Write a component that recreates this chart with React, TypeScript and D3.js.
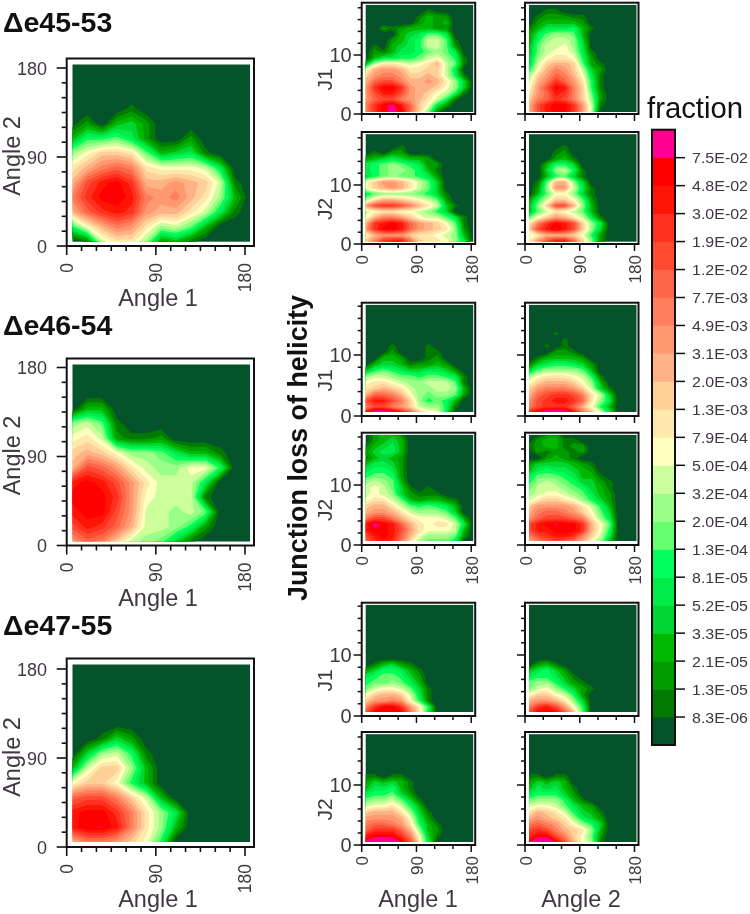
import React from "react";
import * as d3 from "d3";

const BAND_COLORS = ["#04532a","#007a00","#009c00","#00b800","#00d632","#00ec48","#00ff5a","#66ff70","#99ff88","#ccff9c","#ffffbf","#ffe8ac","#ffd098","#ffb285","#ff9a70","#ff7f5c","#ff6647","#ff4a32","#ff3020","#ff1405","#ff0000","#ff0090"];
const LEVEL_LABELS = ["8.3E-06","1.3E-05","2.1E-05","3.3E-05","5.2E-05","8.1E-05","1.3E-04","2.0E-04","3.2E-04","5.0E-04","7.9E-04","1.3E-03","2.0E-03","3.1E-03","4.9E-03","7.7E-03","1.2E-02","1.9E-02","3.0E-02","4.8E-02","7.5E-02"];

// Grid values are positions on the colour bar (0 = lowest band, 21 = highest). Whole numbers mean "inside that band"; rows run bottom-up.
const mainA = [
  [0,1,9,11,11,8,2,3,1],
  [6,10,13,15,14,11,8,9,7,3],
  [13,16,18,19,18,14,13,13,11,9,5,1],
  [15,18,20,20.8,19,15,14.5,15,13,11,8,3],
  [13,17,19,20,18,13,13,14,13,12,9,1],
  [11,13,15,16,15,11,10,10,10,9,5],
  [8,10,12,12,11,7,3,4,5,1],
  [3,6,6,7,5,2,0,0,2],
  [0.4,2,0,3,4,2],
  [0,0,0,0,1],
];
const mainB = [
  [14,16,15,12,9,8.6,7,4,1],
  [17,19,18,16,13,9,9,8,6,2],
  [19,20,20,17,14,9.7,9,8,9,7],
  [20,20.9,20,18,14,10.6,9,9,9,1],
  [19,20,19,17,14,11,9,9,9,5],
  [13,17,16,14,11,9,8,8,10,10,6],
  [12,13,12,10,8,8,7,5,3,3,1],
  [10,11,9,2,1,1,2],
  [8,9,7,1],
  [0,3,3],
];
const mainC = [
  [13,15,15,14,12,10,6],
  [19,20.9,21.05,19,15,11,8,3],
  [19,20,20,18,15,11,8,5],
  [16,17,17,15,12,9,3],
  [10,12,12,10,6,3],
  [3,9,12.4,12,8,3.5],
  [0,4,8,9,6,1],
  [0,0,1,4,2],
];
const j1A1 = [
  [15,18,20,21.6,20,16,12,8,2],
  [15,18,20,21.6,19,16,12,10,5,2],
  [14,16,17,17,15,14,13,11,9,6,1],
  [14,17,19,19,17,14,13,12,10,9,6,1],
  [14,18,20,20,18,14,13,13,12,10,8,4],
  [13,16,17,17,15,13,13,14,13,11,8,4],
  [12,14,15,15,14,12,12,13,12,9,6,1],
  [10,13,14,14,13,11,11,12,12,9,5],
  [3,9,11,11,10,9,10,11,13,9,7,1],
  [0,3,5,5,6,6,7,9,10,8,6,1],
  [0,2,1,3,5,5,6,7,8,7,5],
  [0,1,0,3,4,5,6,9,9,7,2],
  [0,0,0,2,3,5,6,9,9,7,1],
  [0,0,0,0,3,4,5,7,7,5],
  [0,0,2,1,2,3,3,3,2,2],
  [0,0,0,0,0,0,2,3,2,3],
  [0,0,0,0,0,0,1,3,2,2],
  [0,0,0,0,0,0,0,1,0.5],
];
const j1A2 = [
  [13,17,19,20,20,18,14,9,0.5],
  [13,17,19,20,20,18,14,9,1],
  [12,15,16,18,17,15,12,8,2],
  [11,14,16,19,18,15,12,7,2],
  [10,14,17,20,19,15,12,6,1],
  [9,13,15,18,16,14,11,6,1],
  [8,12,14,16,15,13,10,5,1],
  [6,10,13,15,14,12,9,4,2],
  [4,9,12,13,13,12,7,2,1],
  [4,8,10,11,11,10,6,2],
  [3,7,9,10,10,9,5,1],
  [3,7,9,9,10,8,5],
  [2,6,8,9,9,8,4],
  [2,5,7,8,8,7,3],
  [1,3,5,5,5,6,3,1],
  [0,2,3,3,3,3,2],
  [0,1,2,2,2,1,1],
  [0,0,1,1],
];
const j2A1 = [
  [12,15,18,19,19,16,12,11,11,10,8,5],
  [10,13,14,14,14,12,11,11,10,9,8,3],
  [14,18,20,20,19,16,14,13,12,11,8,2],
  [13,18,19,20,19,16,14,13,12,10,7,1],
  [10,13,15,15,14,12,10,9,9,7,5,1],
  [9,10,11,11,10,10,9,8,6,4],
  [14,17,18,18,17,15,13,11,9,4,1],
  [8,11,13,13,12,11,10,9,7,2],
  [5,7,8,8,8,8,7,6,4,1],
  [10,12,13,14,13,11,9,7,4],
  [10,12,14,14,13,11,9,7,4],
  [4,6,7,8,7,7,6,5,2],
  [5,6,7,8,8,7,6,3,1],
  [5,6,7,8,7,6,5,2,2],
  [2,3,4,5,4,3,3,2],
  [0,1,0,2,2],
  [0,0,0,0,1],
];
const j2A2 = [
  [11,14,17,19,19,16,12,8,2],
  [9,11,13,13,13,12,10,6,2],
  [12,17,19,21.2,19,17,12,8,4],
  [11,15,18,20,19,17,12,8,5],
  [7,10,12,14,13,11,9,5,1],
  [3,7,9,11,10,9,7,3],
  [3,8,12,17,17,13,8,3],
  [2,6,9,12,12,10,7,2],
  [0,3,7,10,10,8,4,1],
  [0,2,8,14,14,9,5,1],
  [0,1,7,13,13,8,4],
  [0,0,3,6,7,4,1],
  [0,0,4,8,9,6,1],
  [0,0,3,6,6,4],
  [0,0,0,2,3,1],
  [0,0,0,1,2],
  [0,0,0,0.5,1],
];
const j1B1 = [
  [20,24,24,23,20,17,13,11,10,5],
  [15,17,17,15,14,12,9,8,8,6,1],
  [17,19,19,17,15,12,8,6,7,6,3],
  [13,16,16,15,13,10,8,7,8,8,7,2],
  [11,12,13,12,11,9,8,8,9,9,8,3],
  [10,11,11,10,9,8,8,9,9,9,7,1],
  [8,9,9,8,7,7,6,7,7,6,5,1],
  [3,6,7,6,5,4,4,5,5,4,2],
  [0,3,4,4,3,1,2,2,3,2],
  [0,0,3,3,2,0,0,1,2],
  [0,0,0.5,2,0,0,0,1,1],
  [0,0,0,1,0,0,0,1],
];
const j1B2 = [
  [19,21,24,24,24,20,16,13,10,5],
  [15,17,18,18,18,16,13,10,6,3],
  [14,17,18,19,19,18,16,11,8,5],
  [13,16,17,18,18,17,15,11,9,4],
  [12,14,15,15,15,14,12,9,4,1],
  [10,12,13,13,13,12,10,8,3],
  [8,10,11,11,11,10,9,6,1],
  [4,7,8,8,8,8,7,3],
  [1,4,5,6,6,5,4,2],
  [0,1,3,3,3,3,2],
  [0,0,0,2,2,1],
  [0,0,1,0,1],
  [0,0,0,0,1],
  [0,0,0,1.5],
];
const j2B1 = [
  [16,18,19,18,15,11,8,7,7,7,5],
  [17,19,20,19,16,13,10,8,8,8,7,2],
  [19,20.8,20,19,17,14,11,10,10,10,9,3],
  [19,21.6,20.6,19,16,13,11,10,11,11,9,5],
  [15,17,17,15,13,11,10,10,10,9,7,2],
  [13,14,14,13,11,9,8,8,8,7,4],
  [12,13,13,11,9,7,6,7,6,5,3],
  [10,11,11,9,7,3,2,3,3,2,1],
  [9,10,9,8,4,2,1,1,1],
  [9,10,9,7,4,1,0,1],
  [8,9,8,7,3],
  [6,7,7,6,2],
  [5,6,6,5,2],
  [3,5,5,4,2],
  [1,3,4,3,2],
  [2,4,5,5,3],
  [1,3,4,5,3],
  [0,2,3,4,3],
  [0,2,3,3,1],
];
const j2B2 = [
  [13,15,16,17,16,15,13,10,8,3],
  [15,17,18,19,19,18,15,12,9,5],
  [17,19,19,20,20.8,20,18,13,10,6],
  [17,19,20,21.2,20.5,20,18,13,10,7],
  [14,16,17,17,17,16,15,11,8,5],
  [13,15,16,16,15,14,12,10,7,4],
  [12,14,14,14,14,13,11,9,6,3],
  [9,11,12,12,11,10,8,6,4,2],
  [8,9,10,10,9,8,7,5,3,2],
  [7,9,9,9,8,7,6,4,3,1],
  [6,8,9,8,7,6,4,4,2,1],
  [5,7,7,7,6,5,3,3,1],
  [3,5,6,5,5,4,3,2],
  [2,4,4,4,4,3,2,1],
  [0,0,2,3,2,1],
  [0,2,1,2,2,1,2],
  [1,2,3,3,1,2,2],
  [0,2,3,3,1,1],
  [0,0,1,2],
];
const j1C1 = [
  [17,20,20.7,20.7,20,16,11,5],
  [15,18,20,20,18,14,11,6],
  [12,14,14,15,14,10,6,1],
  [10,12,13,13,12,9,5,1],
  [7,9,10,10,9,7,4,1],
  [6,7,7,8,7,5,3],
  [5,6,7,7,6,4,2],
  [2,4,6,6,5,3,1],
  [0,1,3,4,2.5,1],
];
const j1C2 = [
  [17,20,20.7,20,17,13,7],
  [15,18,19,17,14,10,6],
  [13,14,14,13,11,8,4],
  [10,12,12,10,9,6,2],
  [7,9,10,8,6,4,2,1],
  [7,8,8,6,4,2,1],
  [5,6,6,5,3,1],
  [3,5,6,4,2],
  [0,2,3,1],
];
const j2C1 = [
  [21,23,23,23,20.8,17,11,5],
  [19,20,20,20,18,15,10,4,1],
  [16,18,18,18,16,13,8,3,2],
  [15,16,16,15,14,11,6,3,1],
  [14,14,14,14,13,10,5,2],
  [12,13,13,13,11,8,4,1],
  [9,10,10,11,9,6,3],
  [7,8,8,9,7,4,1],
  [5,6,6,7,4,2],
  [3,5,5,6,3,1],
  [2,4,3,4,3,1],
  [1,1,0,1,1],
];
const j2C2 = [
  [20.8,23,23,20.8,17,13,10,8,1],
  [18,20,20,17,15,12,10,7,2],
  [17,18,17,15,13,12,11,8,3],
  [15,16,15,14,12,10,8,6,4],
  [13,14,13,12,11,8,5,4,2],
  [11,13,12,11,9,6,4,3,1],
  [9,10,10,9,7,5,3,2],
  [7,8,8,8,6,3,1],
  [5,6,6,6,4,2],
  [3,5,4,5,3,1],
  [2,4,3,4,3],
  [1,1,0,1,1],
];

const TITLES = ["\u0394e45-53", "\u0394e46-54", "\u0394e47-55"];
const MAIN_TICKS = [0, 90, 180];
const MAIN_MINOR = d3.range(0, 181, 15);
const J_TICKS = [0, 10];
const J_MINOR = d3.range(0, 19, 2);
const SMALL_MINOR = d3.range(0, 181, 30);
const THRESHOLDS = d3.range(1, 22);
const FONT = "'Liberation Sans', Arial, sans-serif";
const INK = "#3f3840";

function ContourFill({ rows, nRows, colX, rowY, clipId, box }: any) {
  const nCols = 13;
  const values = new Array(nCols * nRows).fill(0);
  rows.forEach((r: number[], j: number) => r.forEach((v, i) => {
    values[j * nCols + i] = v > 0 && Number.isInteger(v) ? v + 0.5 : v;
  }));
  const gen = d3.contours().size([nCols, nRows]).thresholds(THRESHOLDS).smooth(true);
  const path = d3.geoPath(d3.geoTransform({
    point(x: number, y: number) { (this as any).stream.point(colX(x - 0.5), rowY(y - 0.5)); },
  }));
  return (
    <g>
      <clipPath id={clipId}><rect x={box[0]} y={box[1]} width={box[2] - box[0]} height={box[3] - box[1]} /></clipPath>
      <rect x={box[0]} y={box[1]} width={box[2] - box[0]} height={box[3] - box[1]} fill={BAND_COLORS[0]} />
      <g clipPath={`url(#${clipId})`}>
        {gen(values).map((c: any, i: number) => (
          <path key={i} d={path(c) || ""} fill={BAND_COLORS[c.value]} />
        ))}
      </g>
    </g>
  );
}

function Frame({ l, t, r, b }: any) {
  return <rect x={l} y={t} width={r - l} height={b - t} fill="#fff" stroke="#111" strokeWidth={2} />;
}

function MainPanel({ rows, index }: any) {
  const f = MAIN_LAYOUT[index];
  const x = d3.scaleLinear([0, 180], [66.7, 245]);
  const y = d3.scaleLinear([0, 180], [f.zero, f.zero - 178]);
  const box = [72.5, f.top + 6, 250, f.inBottom];
  const colX = d3.scaleLinear([0, 12], [box[0], box[2]]);
  const rowY = d3.scaleLinear([0, 12], [box[3], box[1]]);
  return (
    <g>
      <text x={3} y={f.titleY} fontFamily={FONT} fontWeight="bold" fontSize={28.5} fill="#111">{TITLES[index]}</text>
      <Frame l={66.7} t={f.top} r={254} b={f.zero} />
      <ContourFill rows={rows} nRows={13} colX={colX} rowY={rowY} clipId={`m${index}`} box={box} />
      {MAIN_MINOR.map((d) => (
        <g key={d} stroke="#111" strokeWidth={1.6}>
          <line x1={x(d)} x2={x(d)} y1={f.zero} y2={f.zero + (d % 90 ? 5 : 9)} />
          <line x1={66.7} x2={66.7 - (d % 90 ? 5 : 10)} y1={y(d)} y2={y(d)} />
        </g>
      ))}
      {MAIN_TICKS.map((d) => (
        <g key={d} fontFamily={FONT} fill={INK}>
          <text x={47} y={y(d) + 6.5} fontSize={18} textAnchor="end">{d}</text>
          <text transform={`translate(${x(d) + 6},${f.zero + 17}) rotate(-90)`} fontSize={17.5} textAnchor="end">{d}</text>
        </g>
      ))}
      <text x={158} y={f.zero + 60} textAnchor="middle" fontFamily={FONT} fontSize={23.5} fill={INK}>Angle 1</text>
      <text transform={`translate(20,${y(90) - 1}) rotate(-90)`} textAnchor="middle" fontFamily={FONT} fontSize={23.5} fill={INK}>Angle 2</text>
    </g>
  );
}

function SmallPanel({ rows, l, p, label, showX, id }: any) {
  const x = d3.scaleLinear([0, 180], [l, l + 109.5]);
  const y = d3.scaleLinear([0, 10], [p.zero, p.ten]);
  const box = [l + 4, p.top + 2.2, l + 111.5, p.inBottom];
  const colX = d3.scaleLinear([0, 12], [box[0], box[2]]);
  const rowY = (k: number) => y(k + 0.5);
  return (
    <g>
      <Frame l={l} t={p.top} r={l + 113.5} b={p.zero} />
      <ContourFill rows={rows} nRows={19} colX={colX} rowY={rowY} clipId={id} box={box} />
      {SMALL_MINOR.map((d) => (
        <line key={d} x1={x(d)} x2={x(d)} y1={p.zero} y2={p.zero + (d % 90 ? 4 : 7)} stroke="#111" strokeWidth={1.5} />
      ))}
      {J_MINOR.map((d) => (
        <line key={d} x1={l} x2={l - (d % 10 ? 4 : 8)} y1={y(d)} y2={y(d)} stroke="#111" strokeWidth={1.5} />
      ))}
      {label && (
        <g fontFamily={FONT} fill={INK}>
          {J_TICKS.map((d) => (
            <text key={d} x={l - 10} y={y(d) + 7} fontSize={20} textAnchor="end">{d}</text>
          ))}
          <text transform={`translate(${l - 30},${(p.top + p.zero) / 2 + 21}) rotate(-90)`} fontSize={21} textAnchor="middle">{label}</text>
        </g>
      )}
      {showX && MAIN_TICKS.map((d) => (
        <text key={d} transform={`translate(${x(d) + 6.5},${p.zero + 11}) rotate(-90)`} textAnchor="end" fontFamily={FONT} fontSize={17} fill={INK}>{d}</text>
      ))}
    </g>
  );
}

const MAIN_LAYOUT = [
  { top: 58.5, zero: 246, inBottom: 241.7, titleY: 32 },
  { top: 358.5, zero: 545.5, inBottom: 541.5, titleY: 335 },
  { top: 658.5, zero: 847, inBottom: 842, titleY: 635 },
];
const SMALL_ROWS = [
  { top: 2.7, zero: 114, ten: 55, inBottom: 112 },
  { top: 132, zero: 244, ten: 185, inBottom: 241.7 },
  { top: 302.7, zero: 416, ten: 355, inBottom: 412 },
  { top: 432.7, zero: 545, ten: 485, inBottom: 541 },
  { top: 602.7, zero: 716, ten: 655, inBottom: 712 },
  { top: 732, zero: 845, ten: 785, inBottom: 842 },
];
const COL_LEFT = [361.7, 525];
const SMALL_DATA = [[j1A1, j1A2], [j2A1, j2A2], [j1B1, j1B2], [j2B1, j2B2], [j1C1, j1C2], [j2C1, j2C2]];

function ColorBar() {
  const y = d3.scaleLinear([0, 22], [745, 129.7]);
  return (
    <g>
      <text x={647} y={118} fontFamily={FONT} fontSize={29} fill="#111" textLength={96} lengthAdjust="spacingAndGlyphs">fraction</text>
      {BAND_COLORS.map((c, i) => (
        <rect key={i} x={652} width={23} y={y(i + 1)} height={y(i) - y(i + 1) + 0.4} fill={c} />
      ))}
      <rect x={652} y={129.7} width={23} height={615.3} fill="none" stroke="#111" strokeWidth={2} />
      {LEVEL_LABELS.map((t, i) => (
        <g key={t + i}>
          <line x1={675} x2={685} y1={y(i + 1)} y2={y(i + 1)} stroke="#111" strokeWidth={1.5} />
          <text x={692} y={y(i + 1) + 5.5} fontFamily={FONT} fontSize={15.5} fill={INK} textLength={56} lengthAdjust="spacingAndGlyphs">{t}</text>
        </g>
      ))}
    </g>
  );
}

export default function App() {
  return (
    <svg width={750} height={914} style={{ position: "fixed", left: 0, top: 0, background: "#fff", filter: "blur(0.45px)" }}>
      <MainPanel rows={mainA} index={0} />
      <MainPanel rows={mainB} index={1} />
      <MainPanel rows={mainC} index={2} />
      {SMALL_ROWS.map((p, r) => COL_LEFT.map((l, c) => (
        <SmallPanel key={`${r}-${c}`} id={`s${r}${c}`} rows={SMALL_DATA[r][c]} l={l} p={p}
          label={c === 0 ? (r % 2 ? "J2" : "J1") : null} showX={r % 2 === 1} />
      )))}
      <text transform="translate(306.5,448) rotate(-90)" textAnchor="middle" fontFamily={FONT} fontWeight="bold" fontSize={28} fill="#111" textLength={306} lengthAdjust="spacingAndGlyphs">Junction loss of helicity</text>
      <text x={418} y={907} textAnchor="middle" fontFamily={FONT} fontSize={23.5} fill={INK}>Angle 1</text>
      <text x={581} y={907} textAnchor="middle" fontFamily={FONT} fontSize={23.5} fill={INK}>Angle 2</text>
      <ColorBar />
    </svg>
  );
}
